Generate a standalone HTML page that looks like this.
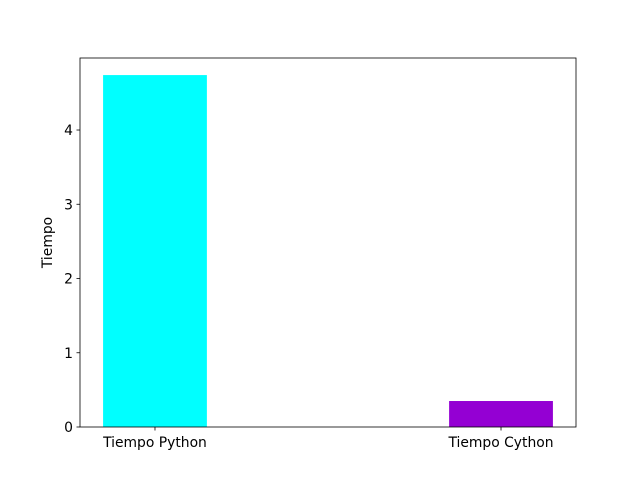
<!DOCTYPE html>
<html><head><meta charset="utf-8"><style>
body{margin:0;background:#fff;}
svg text{font-family:"DejaVu Sans","Liberation Sans",sans-serif;font-size:13.89px;fill:#000;}
</style></head><body>
<svg id="chart" width="640" height="480"></svg>
<script>
const categories = ["Tiempo Python", "Tiempo Cython"];
const values = [4.74, 0.35];
const colors = ["#00ffff", "#9400d3"];
const yTicks = [0, 1, 2, 3, 4];

const L=80,R=576,T=58,B=427;
const xMin=-0.2167,xMax=1.2167,yMin=0,yMax=4.97;
const xs=v=>L+(v-xMin)/(xMax-xMin)*(R-L);
const ys=v=>B-(v-yMin)/(yMax-yMin)*(B-T);
const NS="http://www.w3.org/2000/svg";
const svg=document.getElementById('chart');
function mk(t,a,p){const e=document.createElementNS(NS,t);for(const k in a)e.setAttribute(k,a[k]);(p||svg).appendChild(e);return e;}

categories.forEach((c,i)=>{
  const x0=xs(i-0.15),x1=xs(i+0.15);
  const bar=mk('rect',{x:x0,y:ys(values[i]),width:x1-x0,height:ys(0)-ys(values[i]),fill:colors[i]});
  
  
  const tk=mk('line',{x1:xs(i),x2:xs(i),y1:B,y2:B+3.5,stroke:'#000','stroke-width':0.8});
  
  
  const lb=mk('text',{x:xs(i),y:B+20,'text-anchor':'middle'});
  lb.textContent=c;
  
  
});
yTicks.forEach(v=>{
  const tk=mk('line',{x1:L-3.5,x2:L,y1:ys(v),y2:ys(v),stroke:'#000','stroke-width':0.8});
  
  
  const lb=mk('text',{x:L-7,y:ys(v)+5,'text-anchor':'end'});
  lb.textContent=v;
  
  
});
const frame=mk('rect',{x:L,y:T,width:R-L,height:B-T,fill:'none',stroke:'#000','stroke-width':0.8});


const yt=mk('text',{x:0,y:0,'text-anchor':'middle',transform:`translate(52,${(T+B)/2}) rotate(-90)`});
yt.textContent='Tiempo';


</script>
</body></html>
